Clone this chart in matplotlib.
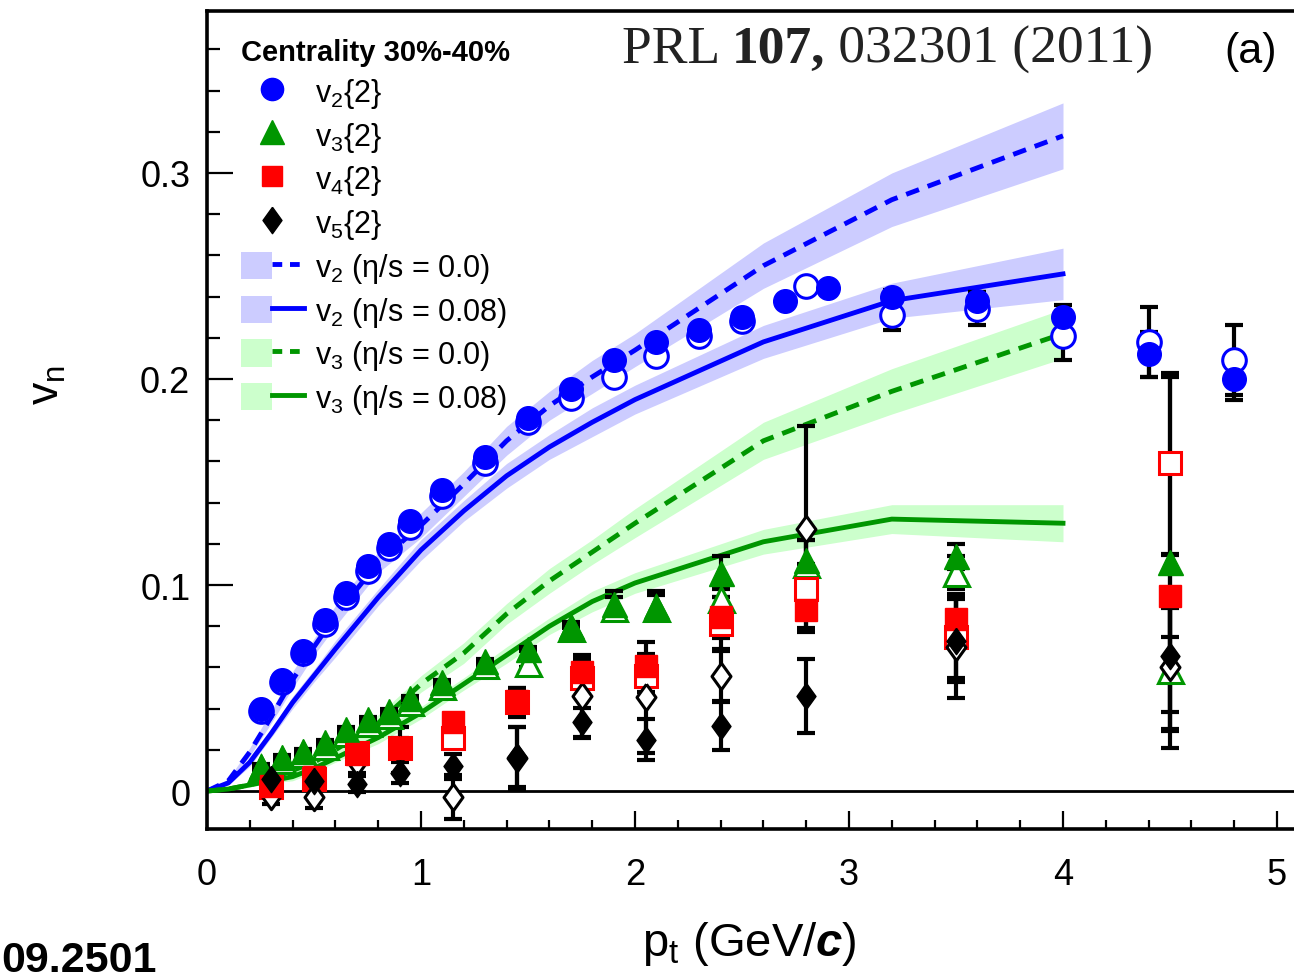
import matplotlib
matplotlib.use("Agg")
import matplotlib.pyplot as plt
from matplotlib.patches import Patch
from matplotlib.lines import Line2D
from matplotlib.legend_handler import HandlerTuple
from matplotlib.ticker import MultipleLocator, FuncFormatter

plt.rcParams['font.family'] = ['Liberation Sans', 'DejaVu Sans']
plt.rcParams['mathtext.fontset'] = 'custom'
plt.rcParams['mathtext.rm'] = 'Liberation Sans'
plt.rcParams['mathtext.it'] = 'Liberation Sans:italic'
plt.rcParams['mathtext.bf'] = 'Liberation Sans:bold'
plt.rcParams['mathtext.bfit'] = 'Liberation Sans:bold:italic'

# hydro calculations (ideal eta/s = 0.0 and viscous eta/s = 0.08)
pt_hydro = [0, 0.1, 0.2, 0.3, 0.4, 0.5, 0.6, 0.8, 1.0, 1.2, 1.4, 1.6, 1.8, 2.0, 2.6, 3.2, 4.0]
v2_ideal = [0, 0.005, 0.019, 0.036, 0.054, 0.070, 0.085, 0.111, 0.129, 0.149, 0.170, 0.187, 0.201, 0.214, 0.255, 0.287, 0.318]
v2_ideal_band = [0, 0.001, 0.002, 0.003, 0.004, 0.004, 0.005, 0.005, 0.006, 0.006, 0.007, 0.007, 0.008, 0.008, 0.011, 0.013, 0.016]
v2_visc = [0, 0.004, 0.014, 0.028, 0.043, 0.056, 0.069, 0.094, 0.117, 0.136, 0.153, 0.167, 0.179, 0.190, 0.218, 0.238, 0.251]
v2_visc_band = [0, 0.001, 0.002, 0.002, 0.003, 0.003, 0.004, 0.004, 0.005, 0.005, 0.006, 0.006, 0.007, 0.007, 0.008, 0.0085, 0.0125]
v3_ideal = [0, 0.001, 0.003, 0.006, 0.010, 0.014, 0.020, 0.033, 0.052, 0.067, 0.086, 0.102, 0.116, 0.130, 0.170, 0.194, 0.222]
v3_ideal_band = [0, 0.001, 0.001, 0.002, 0.002, 0.003, 0.003, 0.004, 0.004, 0.005, 0.005, 0.006, 0.006, 0.007, 0.009, 0.011, 0.012]
v3_visc = [0, 0.001, 0.003, 0.005, 0.007, 0.011, 0.016, 0.026, 0.038, 0.052, 0.066, 0.080, 0.092, 0.101, 0.121, 0.132, 0.130]
v3_visc_band = [0, 0.001, 0.001, 0.001, 0.002, 0.002, 0.002, 0.003, 0.003, 0.003, 0.004, 0.004, 0.005, 0.005, 0.006, 0.007, 0.009]

# v2{2} (filled) and v2{2, |eta gap|} (open)
pt_v2 = [0.25, 0.35, 0.45, 0.55, 0.65, 0.75, 0.85, 0.95, 1.1, 1.3, 1.5, 1.7, 1.9, 2.1, 2.3, 2.5, 2.7, 2.9, 3.2, 3.6, 4.0, 4.4, 4.8]
v2 = [0.040, 0.054, 0.068, 0.083, 0.096, 0.109, 0.120, 0.131, 0.146, 0.162, 0.181, 0.195, 0.209, 0.218, 0.224, 0.230, 0.238, 0.244, 0.240, 0.238, 0.230, 0.212, 0.200]
v2_err = [0.001] * 18 + [0.003, 0.004, 0.006, 0.011, 0.010]
pt_v2_gap = [0.25, 0.35, 0.45, 0.55, 0.65, 0.75, 0.85, 0.95, 1.1, 1.3, 1.5, 1.7, 1.9, 2.1, 2.3, 2.5, 2.8, 3.2, 3.6, 4.0, 4.4, 4.8]
v2_gap = [0.039, 0.053, 0.067, 0.081, 0.094, 0.107, 0.118, 0.128, 0.143, 0.159, 0.179, 0.191, 0.201, 0.211, 0.221, 0.228, 0.245, 0.231, 0.234, 0.221, 0.218, 0.209]
v2_gap_err = [0.001] * 16 + [0.002, 0.007, 0.008, 0.012, 0.017, 0.017]

# v3{2}
pt_v3 = [0.25, 0.35, 0.45, 0.55, 0.65, 0.75, 0.85, 0.95, 1.1, 1.3, 1.5, 1.7, 1.9, 2.1, 2.4, 2.8, 3.5, 4.5]
v3 = [0.012, 0.0165, 0.0195, 0.024, 0.030, 0.035, 0.039, 0.045, 0.053, 0.063, 0.069, 0.080, 0.091, 0.090, 0.106, 0.112, 0.114, 0.111]
v3_err = [0.001] * 12 + [0.006, 0.007, 0.008, 0.010, 0.006, 0.090]
v3_gap = [0.011, 0.015, 0.018, 0.022, 0.028, 0.033, 0.037, 0.043, 0.051, 0.061, 0.062, 0.079, 0.089, 0.089, 0.093, 0.110, 0.106, 0.059]
v3_gap_err = [0.001] * 10 + [0.002, 0.003, 0.005, 0.006, 0.008, 0.012, 0.008, 0.030]

# v4{2} and v5{2}
pt_v45 = [0.3, 0.5, 0.7, 0.9, 1.15, 1.45, 1.75, 2.05, 2.4, 2.8, 3.5, 4.5]
v4 = [0.0025, 0.007, 0.018, 0.021, 0.0335, 0.0437, 0.0577, 0.0607, 0.0843, 0.088, 0.0835, 0.0947]
v4_err = [0.002, 0.003, 0.003, 0.004, 0.004, 0.0065, 0.007, 0.006, 0.010, 0.009, 0.012, 0.020]
v4_gap = [0.002, 0.006, 0.0185, 0.021, 0.026, 0.043, 0.055, 0.056, 0.081, 0.098, 0.075, 0.159]
v4_gap_err = [0.003, 0.004, 0.004, 0.005, 0.005, 0.007, 0.009, 0.008, 0.013, 0.012, 0.020, 0.044]
v5 = [0.006, 0.005, 0.0034, 0.009, 0.012, 0.0165, 0.0334, 0.025, 0.0317, 0.046, 0.073, 0.0655]
v5_err = [0.003, 0.004, 0.004, 0.005, 0.006, 0.0145, 0.007, 0.010, 0.012, 0.018, 0.020, 0.027]
v5_gap = [-0.0025, -0.003, 0.014, 0.020, -0.003, 0.016, 0.046, 0.0455, 0.056, 0.127, 0.070, 0.060]
v5_gap_err = [0.004, 0.005, 0.005, 0.011, 0.0106, 0.015, 0.020, 0.027, 0.013, 0.050, 0.025, 0.030]

blue = '#0000ff'
blue_band = '#ccccff'
green = '#009600'
green_band = '#ccffcc'
red = '#ff0000'
diamond = [(0, 1), (0.72, 0), (0, -1), (-0.72, 0), (0, 1)]

fig = plt.figure(figsize=(12.94, 9.79), dpi=100)
ax = fig.add_axes([207 / 1294, 149 / 979, 1087 / 1294, 818 / 979])

# theory bands and curves
ax.fill_between(pt_hydro, [a - b for a, b in zip(v2_ideal, v2_ideal_band)],
                [a + b for a, b in zip(v2_ideal, v2_ideal_band)], color=blue_band, lw=0, zorder=1)
ax.fill_between(pt_hydro, [a - b for a, b in zip(v2_visc, v2_visc_band)],
                [a + b for a, b in zip(v2_visc, v2_visc_band)], color=blue_band, lw=0, zorder=1)
ax.fill_between(pt_hydro, [a - b for a, b in zip(v3_ideal, v3_ideal_band)],
                [a + b for a, b in zip(v3_ideal, v3_ideal_band)], color=green_band, lw=0, zorder=1)
ax.fill_between(pt_hydro, [a - b for a, b in zip(v3_visc, v3_visc_band)],
                [a + b for a, b in zip(v3_visc, v3_visc_band)], color=green_band, lw=0, zorder=1)
ax.plot(pt_hydro, v2_ideal, color=blue, lw=3.5, dashes=(2.8, 1.9), zorder=2)
ax.plot(pt_hydro, v2_visc, color=blue, lw=3.5, zorder=2)
ax.plot(pt_hydro, v3_ideal, color=green, lw=3.5, dashes=(2.8, 1.9), zorder=2)
ax.plot(pt_hydro, v3_visc, color=green, lw=3.5, zorder=2)

ax.axhline(0, color='black', lw=2, zorder=1.5)

# error bars (all black)
eb = dict(fmt='none', ecolor='black', elinewidth=3, capsize=6.5, capthick=3, zorder=3)
ax.errorbar(pt_v2_gap, v2_gap, yerr=v2_gap_err, **eb)
ax.errorbar(pt_v2, v2, yerr=v2_err, **eb)
ax.errorbar(pt_v3, v3_gap, yerr=v3_gap_err, **eb)
ax.errorbar(pt_v3, v3, yerr=v3_err, **eb)
ax.errorbar(pt_v45, v4_gap, yerr=v4_gap_err, **eb)
ax.errorbar(pt_v45, v4, yerr=v4_err, **eb)
ax.errorbar(pt_v45, v5_gap, yerr=v5_gap_err, **eb)
ax.errorbar(pt_v45, v5, yerr=v5_err, **eb)

# open symbols
ax.plot(pt_v2_gap, v2_gap, 'o', ms=17, mfc='white', mec=blue, mew=2.2, ls='none', zorder=4)
ax.plot(pt_v3, v3_gap, '^', ms=18, mfc='white', mec=green, mew=2.2, ls='none', zorder=4)
ax.plot(pt_v45, v4_gap, 's', ms=16, mfc='white', mec=red, mew=2.2, ls='none', zorder=4)
ax.plot(pt_v45, v5_gap, marker=diamond, ms=19, mfc='white', mec='black', mew=2.2, ls='none', zorder=4)

# filled symbols
ax.plot(pt_v2, v2, 'o', ms=17, color=blue, ls='none', zorder=5)
ax.plot(pt_v3, v3, '^', ms=18, color=green, ls='none', zorder=5)
ax.plot(pt_v45, v4, 's', ms=16, color=red, ls='none', zorder=5)
ax.plot(pt_v45, v5, marker=diamond, ms=19, color='black', ls='none', zorder=5)

ax.set_xlim(0, 1087 / 214)
ax.set_ylim(-0.0184, 0.3786)

ax.xaxis.set_major_locator(MultipleLocator(1))
ax.xaxis.set_minor_locator(MultipleLocator(0.2))
ax.yaxis.set_major_locator(MultipleLocator(0.1))
ax.yaxis.set_minor_locator(MultipleLocator(0.02))
ax.xaxis.set_major_formatter(FuncFormatter(lambda v, p: '%d' % round(v)))
ax.yaxis.set_major_formatter(FuncFormatter(lambda v, p: '0' if abs(v) < 1e-9 else '%.1f' % v))
ax.tick_params(which='both', direction='in', top=False, right=False, width=1.6, labelsize=26)
ax.tick_params(axis='x', which='major', length=13, pad=20)
ax.tick_params(axis='x', which='minor', length=6.5)
ax.tick_params(axis='y', which='major', length=18.5, pad=12)
ax.tick_params(axis='y', which='minor', length=9.5)
for s in ['left', 'top', 'bottom']:
    ax.spines[s].set_linewidth(2.6)
ax.spines['right'].set_visible(False)

ax.set_xlabel(r'p$_{\rm t}$ (GeV/$\mathbfit{c}$)', fontsize=34)
ax.xaxis.set_label_coords(0.4986, -0.11)
ax.set_ylabel(r'v$_{\rm n}$', fontsize=32)
ax.yaxis.set_label_coords(-0.128, 0.544)

# legend
handles = [
    Line2D([], [], marker='o', ms=16, color=blue, ls='none'),
    Line2D([], [], marker='^', ms=17, color=green, ls='none'),
    Line2D([], [], marker='s', ms=15, color=red, ls='none'),
    Line2D([], [], marker=diamond, ms=19, color='black', ls='none'),
    (Patch(color=blue_band, lw=0), Line2D([], [], color=blue, lw=3.5, dashes=(2.0, 1.6))),
    (Patch(color=blue_band, lw=0), Line2D([], [], color=blue, lw=3.5)),
    (Patch(color=green_band, lw=0), Line2D([], [], color=green, lw=3.5, dashes=(2.0, 1.6))),
    (Patch(color=green_band, lw=0), Line2D([], [], color=green, lw=3.5)),
]
labels = ['v$_2${2}', 'v$_3${2}', 'v$_4${2}', 'v$_5${2}',
          'v$_2$ (η/s = 0.0)', 'v$_2$ (η/s = 0.08)',
          'v$_3$ (η/s = 0.0)', 'v$_3$ (η/s = 0.08)']
leg = ax.legend(handles, labels, title='Centrality 30%-40%',
                title_fontproperties={'weight': 'bold', 'size': 21},
                alignment='left', loc='upper left',
                bbox_to_anchor=(241 / 1294, 1 - 39 / 979), bbox_transform=fig.transFigure,
                frameon=False, fontsize=22, handlelength=2.05, handleheight=1.0,
                handletextpad=0.38, labelspacing=0.32, borderpad=0, borderaxespad=0,
                handler_map={tuple: HandlerTuple(ndivide=None)})

# journal reference and panel label
t1 = fig.text(622 / 1294, 1 - 63 / 979, 'PRL ', fontsize=38.5, family='Liberation Serif', color='#222222')
t2 = ax.annotate('107,', xy=(1, 0), xycoords=t1, fontsize=38.5, family='Liberation Serif',
                 weight='bold', color='#222222', va='bottom')
ax.annotate(' 032301 (2011)', xy=(1, 0), xycoords=t2, fontsize=38.5, family='Liberation Serif',
            color='#222222', va='bottom')
fig.text(1224 / 1294, 1 - 63 / 979, '(a)', fontsize=31)
fig.text(157 / 1294, 1 - 972 / 979, '09.2501', fontsize=31, weight='bold', ha='right')

fig.savefig('out.png', dpi=100)
